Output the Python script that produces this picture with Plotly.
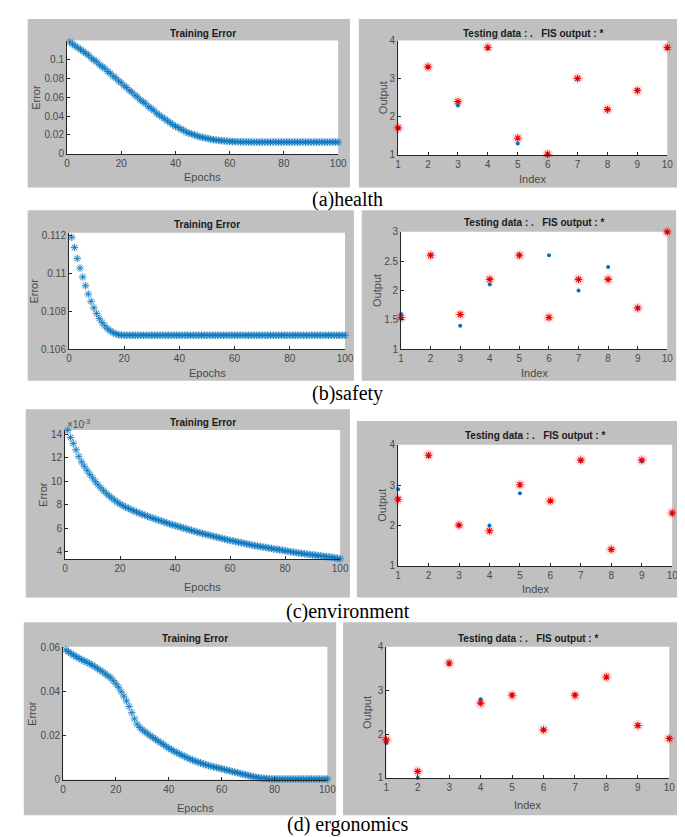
import plotly.graph_objects as go

W, H = 685, 837

epochs = list(range(1, 101))
index = list(range(1, 11))

health_err = [0.118, 0.116, 0.114, 0.112, 0.110, 0.108, 0.106, 0.104, 0.101, 0.099,
              0.097, 0.094, 0.092, 0.090, 0.087, 0.085, 0.082, 0.080, 0.077, 0.075,
              0.072, 0.070, 0.067, 0.065, 0.062, 0.060, 0.057, 0.055, 0.053, 0.050,
              0.048, 0.046, 0.043, 0.041, 0.039, 0.037, 0.035, 0.033, 0.031, 0.029,
              0.028, 0.026, 0.025, 0.023, 0.022, 0.021, 0.020, 0.019, 0.018, 0.0175,
              0.0168, 0.0162, 0.0156, 0.0151, 0.0147, 0.0143, 0.0140, 0.0137, 0.0135, 0.0133,
              0.0131, 0.0130, 0.0129, 0.0128, 0.0127, 0.0127, 0.0126, 0.0126, 0.0126, 0.0125,
              0.0125, 0.0125, 0.0125, 0.0125, 0.0125, 0.0125, 0.0125, 0.0125, 0.0125, 0.0125,
              0.0125, 0.0125, 0.0125, 0.0125, 0.0125, 0.0125, 0.0125, 0.0125, 0.0125, 0.0125,
              0.0125, 0.0125, 0.0125, 0.0125, 0.0125, 0.0125, 0.0125, 0.0125, 0.0125, 0.0125]

safety_err = [0.11189, 0.11136, 0.11078, 0.11027, 0.10980, 0.10934, 0.10890, 0.10852, 0.10818, 0.10788,
              0.10762, 0.10740, 0.10722, 0.10707, 0.10696, 0.10687, 0.10680, 0.10676, 0.10674, 0.10673,
              0.10673, 0.10673, 0.10673, 0.10673, 0.10673, 0.10673, 0.10673, 0.10673, 0.10673, 0.10673,
              0.10673, 0.10673, 0.10673, 0.10673, 0.10673, 0.10673, 0.10673, 0.10673, 0.10673, 0.10673,
              0.10673, 0.10673, 0.10673, 0.10673, 0.10673, 0.10673, 0.10673, 0.10673, 0.10673, 0.10673,
              0.10673, 0.10673, 0.10673, 0.10673, 0.10673, 0.10673, 0.10673, 0.10673, 0.10673, 0.10673,
              0.10673, 0.10673, 0.10673, 0.10673, 0.10673, 0.10673, 0.10673, 0.10673, 0.10673, 0.10673,
              0.10673, 0.10673, 0.10673, 0.10673, 0.10673, 0.10673, 0.10673, 0.10673, 0.10673, 0.10673,
              0.10673, 0.10673, 0.10673, 0.10673, 0.10673, 0.10673, 0.10673, 0.10673, 0.10673, 0.10673,
              0.10673, 0.10673, 0.10673, 0.10673, 0.10673, 0.10673, 0.10673, 0.10673, 0.10673, 0.10673]

# environment error in units of 1e-3
environment_err = [14.36, 13.75, 13.25, 12.70, 12.14, 11.67, 11.30, 10.94, 10.60, 10.30,
                   9.98, 9.70, 9.44, 9.20, 8.97, 8.76, 8.57, 8.39, 8.22, 8.06,
                   7.92, 7.80, 7.69, 7.58, 7.48, 7.38, 7.28, 7.19, 7.10, 7.01,
                   6.92, 6.84, 6.76, 6.68, 6.60, 6.52, 6.44, 6.36, 6.29, 6.22,
                   6.15, 6.08, 6.01, 5.94, 5.87, 5.80, 5.73, 5.66, 5.60, 5.54,
                   5.48, 5.42, 5.36, 5.30, 5.24, 5.18, 5.12, 5.06, 5.00, 4.95,
                   4.90, 4.85, 4.80, 4.75, 4.70, 4.65, 4.60, 4.55, 4.50, 4.46,
                   4.42, 4.38, 4.34, 4.30, 4.26, 4.22, 4.18, 4.14, 4.10, 4.06,
                   4.02, 3.98, 3.94, 3.90, 3.86, 3.83, 3.80, 3.77, 3.74, 3.71,
                   3.68, 3.65, 3.62, 3.59, 3.56, 3.53, 3.50, 3.46, 3.42, 3.38]

ergonomics_err = [0.0590, 0.0582, 0.0574, 0.0566, 0.0559, 0.0552, 0.0546, 0.0540, 0.0534, 0.0528,
                  0.0521, 0.0514, 0.0506, 0.0498, 0.0490, 0.0481, 0.0472, 0.0463, 0.0450, 0.0436,
                  0.0420, 0.0400, 0.0380, 0.0358, 0.0333, 0.0305, 0.0277, 0.0253, 0.0238, 0.0227,
                  0.0218, 0.0209, 0.0200, 0.0192, 0.0184, 0.0176, 0.0168, 0.0160, 0.0152, 0.0144,
                  0.0137, 0.0130, 0.0124, 0.0118, 0.0112, 0.0106, 0.0100, 0.0095, 0.0090, 0.0085,
                  0.0081, 0.0077, 0.0073, 0.0069, 0.0065, 0.0062, 0.0059, 0.0056, 0.0053, 0.0050,
                  0.0047, 0.0044, 0.0041, 0.0038, 0.0035, 0.0032, 0.0029, 0.0026, 0.0023, 0.0020,
                  0.0017, 0.0014, 0.0012, 0.0010, 0.0008, 0.0007, 0.0006, 0.0005, 0.0004, 0.0004,
                  0.0004, 0.0004, 0.0004, 0.0004, 0.0004, 0.0004, 0.0004, 0.0004, 0.0004, 0.0004,
                  0.0004, 0.0004, 0.0004, 0.0004, 0.0004, 0.0004, 0.0004, 0.0004, 0.0004, 0.0004]

health_test = [1.7, 3.3, 2.3, 3.8, 1.3, 1.0, 3.0, 2.2, 2.7, 3.8]
health_fis = [1.71, 3.31, 2.40, 3.82, 1.44, 1.02, 3.01, 2.19, 2.69, 3.82]
safety_test = [1.6, 2.6, 1.4, 2.1, 2.6, 2.6, 2.0, 2.4, 1.7, 3.0]
safety_fis = [1.54, 2.60, 1.59, 2.19, 2.60, 1.54, 2.19, 2.19, 1.70, 3.00]
environment_test = [2.9, 3.72, 2.0, 2.0, 2.8, 2.6, 3.6, 1.4, 3.6, 2.3]
environment_fis = [2.65, 3.74, 2.01, 1.87, 3.01, 2.61, 3.62, 1.41, 3.62, 2.31]
ergonomics_test = [1.8, 1.0, 3.6, 2.8, 2.9, 2.1, 2.9, 3.3, 2.2, 1.9]
ergonomics_fis = [1.87, 1.15, 3.63, 2.71, 2.89, 2.10, 2.89, 3.31, 2.20, 1.90]

captions = ["(a)health", "(b)safety", "(c)environment", "(d) ergonomics"]

err_ticks = [[0, 0.02, 0.04, 0.06, 0.08, 0.1],
             [0.106, 0.108, 0.11, 0.112],
             [4, 6, 8, 10, 12, 14],
             [0, 0.02, 0.04, 0.06]]
err_ranges = [[0, 0.1195], [0.106, 0.11213], [3.35, 14.4], [0, 0.0604]]
out_ticks = [[1, 2, 3, 4], [1, 1.5, 2, 2.5, 3], [1, 2, 3, 4], [1, 2, 3, 4]]
out_ranges = [[1, 4], [1, 3], [1, 4], [1, 4]]
epoch_ticks = [0, 20, 40, 60, 80, 100]

errs = [health_err, safety_err, environment_err, ergonomics_err]
tests = [health_test, safety_test, environment_test, ergonomics_test]
fiss = [health_fis, safety_fis, environment_fis, ergonomics_fis]

# layout geometry in pixels
left_plot = [(57, 333, 27, 142), (59, 340, 222, 340), (55, 335, 422, 553), (53, 322, 642, 777)]
right_plot = [(394, 668, 27, 143), (397, 668, 221, 340), (394, 673, 437, 560), (382, 670, 642, 775)]
left_panel = [(17, 345, 5, 176), (17, 349, 199, 372), (15, 345, 401, 592), (13, 331, 617, 813)]
right_panel = [(354, 678, 5, 176), (357, 677, 199, 372), (352, 680, 413, 592), (338, 678, 617, 813)]
left_title_y = [20, 214, 414, 634]
right_title_y = [20, 212, 428, 634]
left_xlab_y = [165, 364, 581, 806]
right_xlab_y = [167, 364, 583, 803]
left_ylab_x = [26, 23, 32, 22]
right_ylab_x = [378, 373, 378, 363]
caption_y = [188, 385, 606, 822]


def fx(p):
    return p / W


def fy(p):
    return 1 - p / H


fig = go.Figure()
BLUE = "rgb(0,114,189)"
GREY = "#c0c0c0"
TXT = "#4a4a4a"
FONT = "Liberation Sans"

shapes = []
annotations = []
layout_axes = {}

for i in range(4):
    for (x0, x1, y0, y1) in (left_panel[i], right_panel[i]):
        shapes.append(dict(type="rect", xref="paper", yref="paper", x0=fx(x0), x1=fx(x1),
                           y0=fy(y1), y1=fy(y0), fillcolor=GREY, line=dict(width=0), layer="below"))
    for (x0, x1, y0, y1) in (left_plot[i], right_plot[i]):
        shapes.append(dict(type="rect", xref="paper", yref="paper", x0=fx(x0), x1=fx(x1),
                           y0=fy(y1), y1=fy(y0), fillcolor="white", line=dict(width=0), layer="below"))

    la = 2 * i + 1
    ra = 2 * i + 2
    for ax_n, (x0, x1, y0, y1), xr, xt, yr, yt in (
            (la, left_plot[i], [0, 100], epoch_ticks, err_ranges[i], err_ticks[i]),
            (ra, right_plot[i], [1, 10], index, out_ranges[i], out_ticks[i])):
        xk = "xaxis" if ax_n == 1 else f"xaxis{ax_n}"
        yk = "yaxis" if ax_n == 1 else f"yaxis{ax_n}"
        common = dict(showgrid=False, zeroline=False, showline=True, linecolor="#262626", linewidth=1,
                      ticks="inside", ticklen=3, tickcolor="#262626", mirror=False,
                      tickfont=dict(family=FONT, size=10, color=TXT), fixedrange=True)
        layout_axes[xk] = dict(domain=[fx(x0), fx(x1)], anchor=f"y{ax_n}", range=xr,
                               tickvals=xt, **common)
        layout_axes[yk] = dict(domain=[fy(y1), fy(y0)], anchor=f"x{ax_n}", range=yr,
                               tickvals=yt, **common)

    # training error traces
    fig.add_trace(go.Scatter(x=epochs, y=errs[i], mode="markers", xaxis=f"x{la}", yaxis=f"y{la}",
                             marker=dict(symbol="circle", size=8, color="rgba(0,114,189,0.13)",
                                         line=dict(width=0)),
                             cliponaxis=False, showlegend=False, hoverinfo="skip"))
    fig.add_trace(go.Scatter(x=epochs, y=errs[i], mode="markers", xaxis=f"x{la}", yaxis=f"y{la}",
                             marker=dict(symbol="asterisk-open", size=6, color="rgba(0,114,189,0.8)",
                                         line=dict(width=1, color="rgba(0,114,189,0.8)")),
                             cliponaxis=False, showlegend=False))
    # testing data
    fig.add_trace(go.Scatter(x=index, y=fiss[i], mode="markers", xaxis=f"x{ra}", yaxis=f"y{ra}",
                             marker=dict(symbol="circle", size=11, color="rgba(255,90,90,0.22)",
                                         line=dict(width=0)),
                             cliponaxis=False, showlegend=False, hoverinfo="skip"))
    fig.add_trace(go.Scatter(x=index, y=tests[i], mode="markers", xaxis=f"x{ra}", yaxis=f"y{ra}",
                             marker=dict(symbol="circle", size=4, color=BLUE, line=dict(width=0)),
                             cliponaxis=False, showlegend=False))
    fig.add_trace(go.Scatter(x=index, y=fiss[i], mode="markers", xaxis=f"x{ra}", yaxis=f"y{ra}",
                             marker=dict(symbol="asterisk-open", size=6, color="rgb(235,0,0)",
                                         line=dict(width=1.1, color="rgb(235,0,0)")),
                             cliponaxis=False, showlegend=False))

    lp, rp = left_plot[i], right_plot[i]
    annotations.append(dict(text="<b>Training Error</b>", x=fx((lp[0] + lp[1]) / 2), y=fy(left_title_y[i]),
                            xref="paper", yref="paper", showarrow=False, xanchor="center", yanchor="middle",
                            font=dict(family=FONT, size=10, color="#1a1a1a")))
    annotations.append(dict(text="<b>Testing data : .   FIS output : *</b>", x=fx((rp[0] + rp[1]) / 2),
                            y=fy(right_title_y[i]), xref="paper", yref="paper", showarrow=False,
                            xanchor="center", yanchor="middle",
                            font=dict(family=FONT, size=10, color="#1a1a1a")))
    annotations.append(dict(text="Epochs", x=fx((lp[0] + lp[1]) / 2), y=fy(left_xlab_y[i]),
                            xref="paper", yref="paper", showarrow=False, xanchor="center", yanchor="middle",
                            font=dict(family=FONT, size=11, color=TXT)))
    annotations.append(dict(text="Index", x=fx((rp[0] + rp[1]) / 2), y=fy(right_xlab_y[i]),
                            xref="paper", yref="paper", showarrow=False, xanchor="center", yanchor="middle",
                            font=dict(family=FONT, size=11, color=TXT)))
    annotations.append(dict(text="Error", x=fx(left_ylab_x[i]), y=fy((lp[2] + lp[3]) / 2),
                            xref="paper", yref="paper", showarrow=False, xanchor="center", yanchor="middle",
                            textangle=-90, font=dict(family=FONT, size=11, color=TXT)))
    annotations.append(dict(text="Output", x=fx(right_ylab_x[i]), y=fy((rp[2] + rp[3]) / 2),
                            xref="paper", yref="paper", showarrow=False, xanchor="center", yanchor="middle",
                            textangle=-90, font=dict(family=FONT, size=11, color=TXT)))
    annotations.append(dict(text=captions[i], x=0.5, y=fy(caption_y[i]), xref="paper", yref="paper",
                            showarrow=False, xanchor="center", yanchor="middle",
                            font=dict(family="Liberation Serif", size=20, color="black")))

annotations.append(dict(text="×10<sup>-3</sup>", x=fx(55), y=fy(416), xref="paper", yref="paper",
                        showarrow=False, xanchor="left", yanchor="middle",
                        font=dict(family=FONT, size=10, color=TXT)))

fig.update_layout(width=W, height=H, margin=dict(l=0, r=0, t=0, b=0),
                  paper_bgcolor="white", plot_bgcolor="rgba(0,0,0,0)",
                  shapes=shapes, annotations=annotations, showlegend=False, **layout_axes)

fig.write_html("out.html")
